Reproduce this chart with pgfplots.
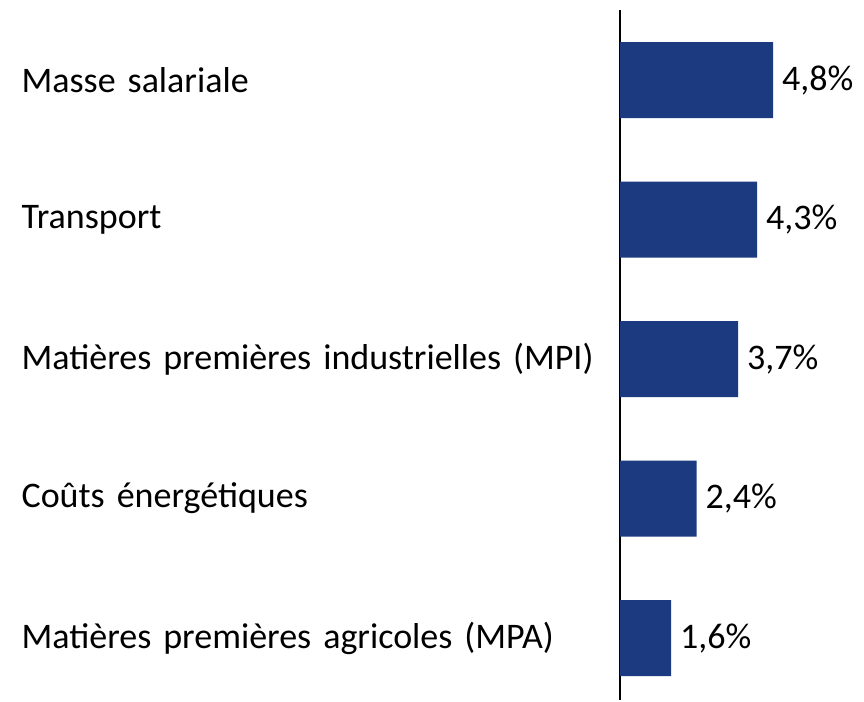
\documentclass[border=0pt]{standalone}
\usepackage{pgfplots}
\pgfplotsset{compat=1.18}
\usepackage{fontspec}
\setmainfont{Carlito}
\definecolor{barblue}{HTML}{1B3A80}

\pgfplotstableread{
y  val
4  4.8
3  4.3
2  3.7
1  2.4
0  1.6
}\costs

\begin{document}
\begin{tikzpicture}
\begin{axis}[
    scale only axis,
    width=122pt, height=345pt,
    xmin=0, xmax=7.65,
    ymin=-0.444, ymax=4.502,
    axis x line=none,
    axis y line=left,
    y axis line style={-, line width=1pt, black},
    ytick={0,1,2,3,4},
    yticklabels={Matières premières agricoles (MPA), Coûts énergétiques, Matières premières industrielles (MPI), Transport, Masse salariale},
    yticklabel style={anchor=east, text width=299pt, align=left, inner sep=0pt, font=\fontsize{18}{21}\selectfont},
    major tick length=0pt,
    ytick style={draw=none},
    xbar, bar width=0.545,
    /pgf/number format/assume math mode=true,
    nodes near coords={\pgfmathprintnumber[fixed, fixed zerofill, precision=1, use comma]{\pgfplotspointmeta}\%},
    point meta=x,
    every node near coord/.append style={font=\fontsize{18}{21}\selectfont, black, xshift=1pt},
]
\addplot[fill=barblue, draw=none] table[x=val, y=y] {\costs};
\end{axis}
\path ([xshift=-310pt,yshift=-0.5pt]current axis.south west) rectangle ([yshift=5pt]current axis.north east);
\end{tikzpicture}
\end{document}
